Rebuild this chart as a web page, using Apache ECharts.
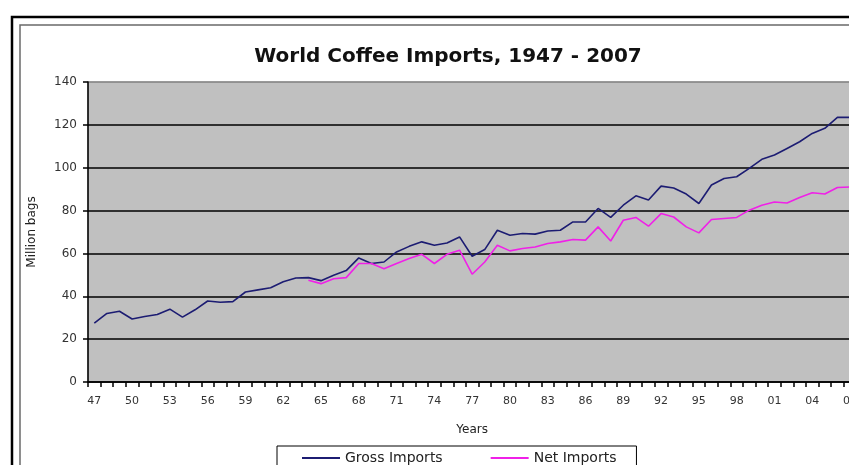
<!DOCTYPE html>
<html>
<head>
<meta charset="utf-8">
<script src="https://cdn.jsdelivr.net/npm/echarts@6/dist/echarts.min.js"></script>
<style>
  html, body { margin: 0; padding: 0; background: #fff; overflow: hidden; }
  /* the original picture is cropped on the right, so the chart is a bit wider than the window */
  #chart { width: 860px; height: 465px; }
</style>
</head>
<body>
<div id="chart"></div>
<script>
// years 1947 - 2007
var years = [];
for (var y = 1947; y <= 2007; y++) { years.push(String(y)); }

// million bags
var grossImports = [
    27.5, 32, 33, 29.4, 30.6, 31.5, 34, 30.3, 33.7, 37.8, 37.2, 37.5, 42, 43, 44, 46.8, 48.5,
    48.7, 47.3, 49.8, 52, 57.9, 55.3, 56, 60.7, 63.3, 65.4, 63.8, 64.9, 67.7, 58.7, 61.8,
    70.8, 68.5, 69.3, 69, 70.5, 70.8, 74.7, 74.7, 81, 76.8, 82.5, 86.9, 84.9, 91.4, 90.5,
    87.7, 83.3, 91.9, 95, 95.8, 99.7, 103.9, 105.9, 109, 112.1, 116, 118.4, 123.5, 123.5
];
var netImports = [
    null, null, null, null, null, null, null, null, null, null, null, null, null, null, null, null, null,
    47.5, 45.9, 48.2, 48.7, 55.3, 55.3, 52.9, 55.3, 57.6, 59.6, 55.3, 59.6, 61.5, 50.3, 56,
    63.8, 61.2, 62.3, 63, 64.6, 65.4, 66.5, 66.2, 72.4, 65.8, 75.5, 76.8, 72.7, 78.6, 77,
    72.4, 69.6, 75.8, 76.3, 76.8, 80.2, 82.5, 84, 83.5, 86.1, 88.3, 87.7, 90.8, 91
];

var chart = echarts.init(document.getElementById('chart'));
var option = {
    backgroundColor: '#fff',
    animation: false,
    textStyle: { fontFamily: 'DejaVu Sans, Arial, sans-serif' },
    title: {
        text: 'World Coffee Imports, 1947 - 2007',
        left: 443,
        top: 42,
        textAlign: 'center',
        textStyle: { fontSize: 20, fontWeight: 'bold', color: '#111' }
    },
    // frame lines around the chart (they run off the right and bottom)
    graphic: [
        {
            type: 'rect',
            shape: { x: 12, y: 17, width: 900, height: 500 },
            style: { fill: 'none', stroke: '#000', lineWidth: 2.5 },
            silent: true
        },
        {
            type: 'rect',
            shape: { x: 20, y: 25, width: 900, height: 500 },
            style: { fill: 'none', stroke: '#6a6a6a', lineWidth: 1.5 },
            silent: true
        }
    ],
    legend: {
        left: 277,
        top: 446,
        padding: [5, 20, 20, 25],
        itemGap: 48,
        itemWidth: 38,
        itemHeight: 2,
        icon: 'rect',
        borderColor: '#000',
        borderWidth: 1,
        textStyle: { fontSize: 14, color: '#222' },
        data: ['Gross Imports', 'Net Imports']
    },
    grid: {
        left: 88,
        top: 82,
        right: 3,
        bottom: 83,
        show: true,
        backgroundColor: '#c0c0c0',
        borderColor: '#8a8a8a',
        borderWidth: 1
    },
    xAxis: {
        type: 'category',
        data: years,
        boundaryGap: true,
        name: 'Years',
        nameLocation: 'middle',
        nameGap: 42,
        nameTextStyle: { fontSize: 12, color: '#222' },
        axisLine: { lineStyle: { color: '#000', width: 1.5 } },
        axisTick: { show: true, interval: 0, length: 5, lineStyle: { color: '#000', width: 1.5 } },
        axisLabel: {
            interval: 2,
            margin: 14,
            fontSize: 11,
            color: '#333',
            formatter: function (v) { return v.slice(2); }
        },
        splitLine: { show: false }
    },
    yAxis: {
        type: 'value',
        min: 0,
        max: 140,
        interval: 20,
        name: 'Million bags',
        nameLocation: 'middle',
        nameGap: 50,
        nameTextStyle: { fontSize: 12, color: '#222' },
        axisLine: { show: true, lineStyle: { color: '#000', width: 1.5 } },
        axisTick: { show: true, length: 5, lineStyle: { color: '#000', width: 1.5 } },
        axisLabel: { margin: 11, fontSize: 12, color: '#333' },
        splitLine: {
            show: true,
            lineStyle: {
                color: ['#000', '#000', '#000', '#000', '#000', '#000', '#000', '#8a8a8a'],
                width: 1.5
            }
        }
    },
    series: [
        {
            name: 'Gross Imports',
            type: 'line',
            data: grossImports,
            symbol: 'none',
            color: '#1c1c72',
            lineStyle: { width: 1.6, color: '#1c1c72' }
        },
        {
            name: 'Net Imports',
            type: 'line',
            data: netImports,
            symbol: 'none',
            color: '#f020e8',
            lineStyle: { width: 1.6, color: '#f020e8' }
        }
    ]
};
chart.setOption(option);
</script>
</body>
</html>
